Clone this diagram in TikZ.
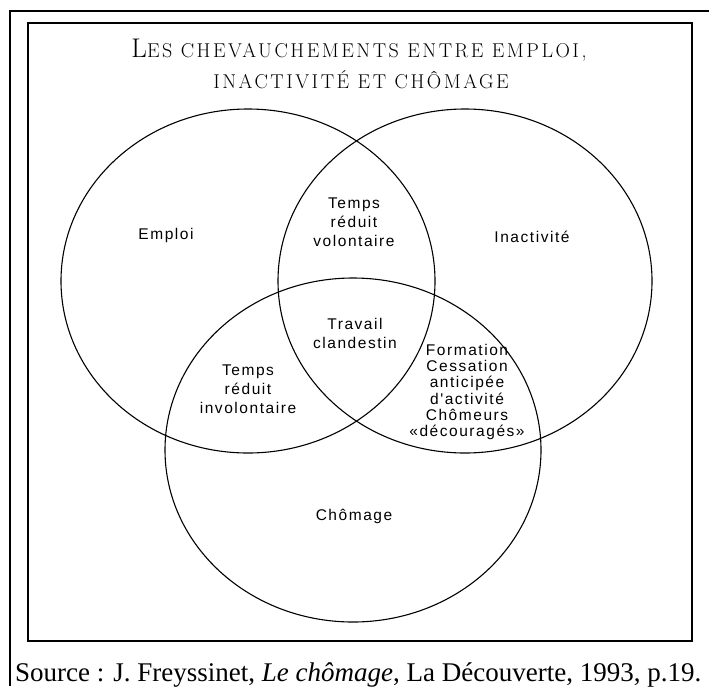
\documentclass[tikz,border=0pt]{standalone}
\usepackage{fontspec}
\setmainfont{Liberation Serif}
\newfontfamily\labelfont[LetterSpace=10]{Liberation Sans}
\newfontfamily\titlefont[LetterSpace=12.5]{Latin Modern Roman}
\newcommand{\titlecap}[1]{{\fontsize{27}{27}\selectfont #1}}
\usetikzlibrary{positioning}

\begin{document}
\begin{tikzpicture}[x=1pt, y=-1pt,
    setline/.style={line width=1.1pt},
    framelinestyle/.style={line width=1.2pt},
    titleline/.style={font=\titlefont\fontsize{20}{20}\selectfont, anchor=base, inner sep=0pt},
    setlabel/.style={font=\labelfont\fontsize{15.5}{19}\selectfont, align=center, inner sep=0pt},
    lenslabel/.style={font=\labelfont\fontsize{15.5}{16.2}\selectfont, align=center, inner sep=0pt}]
    \useasboundingbox (0,0) rectangle (709,686);

    % frames
    \draw[framelinestyle] (10,686) -- (10,11) -- (709,11);
    \draw[framelinestyle] (28,23) rectangle (692,641);

    % title
    \node[titleline] (title1) at (359,57) {\titlecap{L}ES CHEVAUCHEMENTS ENTRE EMPLOI,};
    \node[titleline] (title2) at (361,88) {INACTIVITÉ ET CHÔMAGE};

    % the three sets
    \draw[setline] (248,281) ellipse (187 and 172);
    \draw[setline] (465,281) ellipse (187 and 172);
    \draw[setline] (353,450) ellipse (188 and 172);

    % labels of the sets
    \node[setlabel] (emploi) at (166,235) {Emploi};
    \node[setlabel] (inactivite) at (532,237) {Inactivité};
    \node[setlabel] (chomage) at (354,516) {Chômage};

    % labels of the overlaps
    \node[setlabel] (volontaire) at (354,222) {Temps\\ réduit\\ volontaire};
    \node[setlabel] (clandestin) at (355,333) {Travail\\ clandestin};
    \node[setlabel] (involontaire) at (248,389) {Temps\\ réduit\\ involontaire};
    \node[lenslabel] (formation) at (467,392) {Formation\\ Cessation\\ anticipée\\ d'activité\\ Chômeurs\\ «découragés»};

    % source
    \node[font=\fontsize{27}{30}\selectfont, anchor=base west, inner sep=0pt] (source) at (15,681)
      {Source : J. Freyssinet, \textit{Le chômage}, La Découverte, 1993, p.19.};
\end{tikzpicture}
\end{document}
